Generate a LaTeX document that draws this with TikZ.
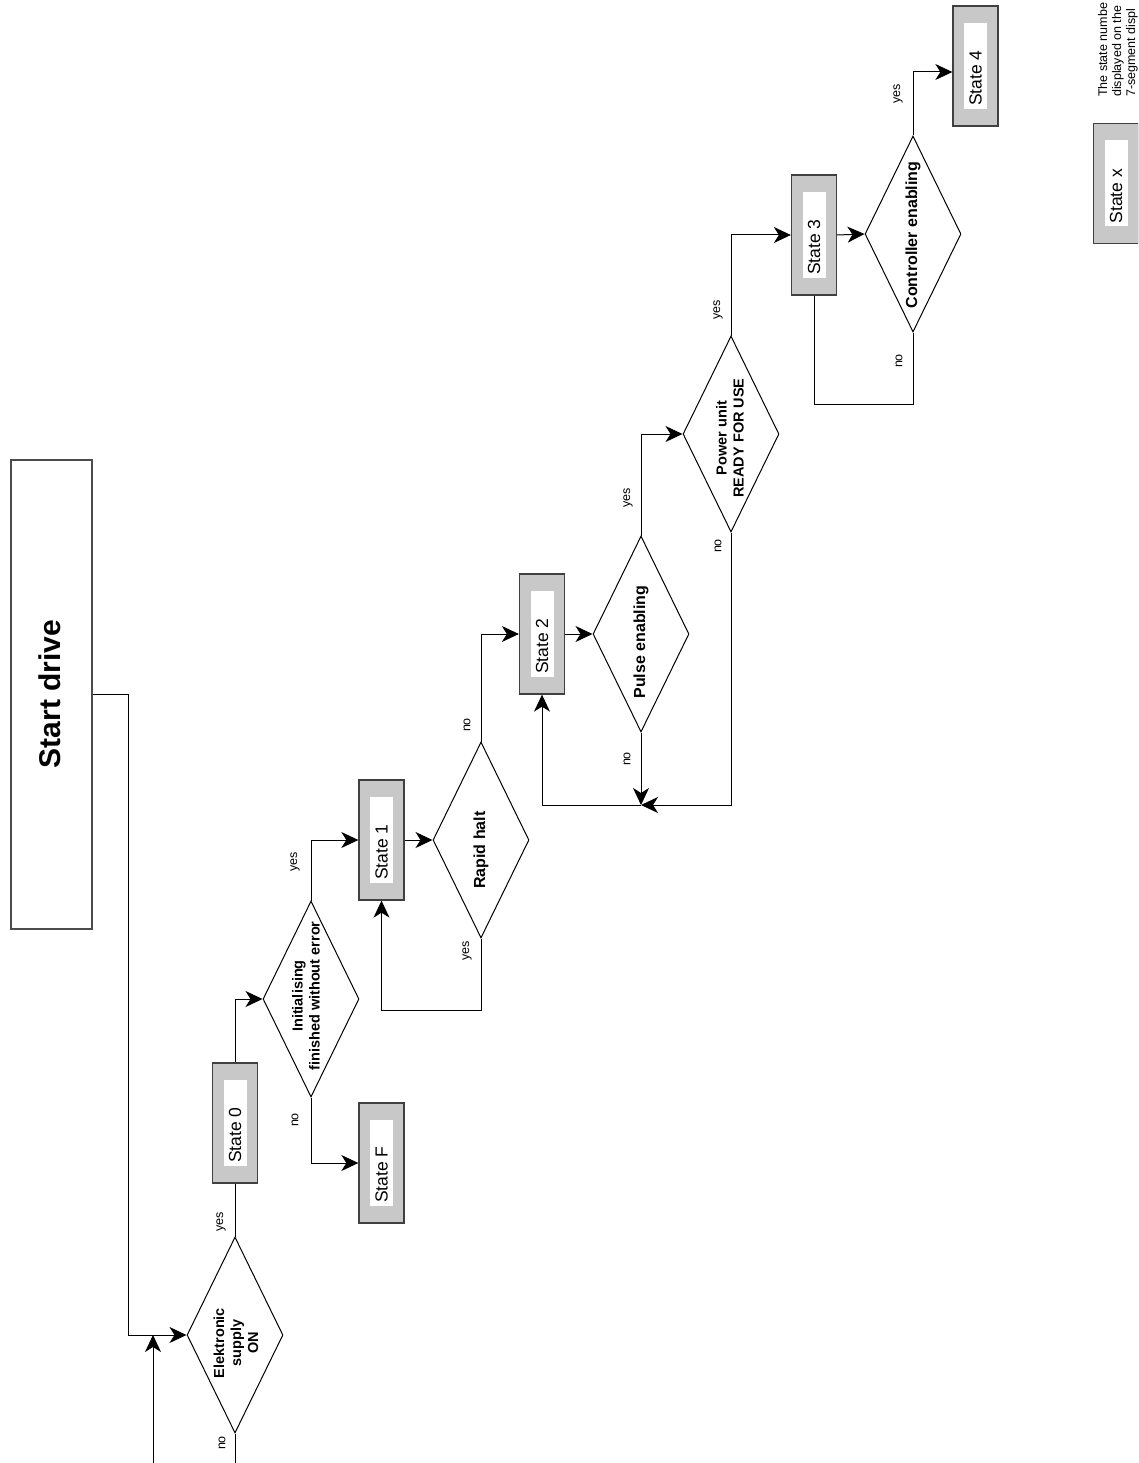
\documentclass[tikz,border=0pt]{standalone}
\usepackage{fontspec}
\setmainfont{Liberation Sans}
\usetikzlibrary{shapes.geometric,arrows.meta}
\definecolor{stategray}{HTML}{C8C8C8}
\tikzset{
 arr/.style={-{Stealth[length=17pt,width=16pt,inset=5pt]}},
 conn/.style={draw=black, line width=1pt},
 dec/.style={shape=diamond, draw=black, line width=1pt, inner sep=0pt, minimum width=96pt, minimum height=196pt},
 dtext/.style={rotate=90, align=center, font=\fontsize{14.5}{17}\selectfont\bfseries, inner sep=0pt},
 dtextb/.style={rotate=90, align=center, font=\fontsize{16}{19}\selectfont\bfseries, inner sep=0pt},
 stouter/.style={draw=black!75, line width=1.3pt, fill=stategray, minimum width=45pt, minimum height=120pt, inner sep=0pt},
 stinner/.style={fill=white, minimum width=23pt, minimum height=86pt, inner sep=0pt},
 sttext/.style={rotate=90, anchor=west, font=\fontsize{17.5}{20}\selectfont, inner sep=0pt},
 yn/.style={rotate=90, font=\fontsize{12.5}{15}\selectfont, inner sep=0pt},
}
\newcommand\stbox[4]{%
  \node[stouter] (#1) at (#2,#3) {};
  \node[stinner] (#1in) at (#1.center) {};
  \node[sttext] (#1txt) at ([yshift=-40pt]#1.center) {#4};
}
\begin{document}
\begin{tikzpicture}[x=1pt,y=-1pt]
\useasboundingbox (0,0) rectangle (1138,1463);
\fill[white] (0,0) rectangle (1138,1463);
\clip (0,0) rectangle (1138,1463);

% start box
\node[draw=black!70, line width=1.2pt, minimum width=81pt, minimum height=469pt, inner sep=0pt] (start) at (51.5,694.5) {};
\node[rotate=90, font=\fontsize{30}{36}\selectfont\bfseries, inner sep=0pt] (starttxt) at (50,694) {Start drive};

% decisions
\node[dec] (d1) at (235,1335) {};
\node[dec] (d2) at (311,999) {};
\node[dec] (d3) at (481,840) {};
\node[dec] (d4) at (641,634) {};
\node[dec] (d5) at (731,434) {};
\node[dec] (d6) at (913,234) {};
\node[dtext] (d1t) at (236,1343) {Elektronic\\supply\\ON};
\node[dtext] (d2t) at (306,996) {Initialising\\finished without error};
\node[dtextb] (d3t) at (481,850) {Rapid halt};
\node[dtextb] (d4t) at (641,642) {Pulse enabling};
\node[dtext] (d5t) at (730,438) {Power unit\\READY FOR USE};
\node[dtextb] (d6t) at (913,235) {Controller enabling};

% states
\stbox{s0}{235}{1123}{State 0}
\stbox{sF}{381.5}{1163}{State F}
\stbox{s1}{381.5}{840}{State 1}
\stbox{s2}{542}{634}{State 2}
\stbox{s3}{814}{235}{State 3}
\stbox{s4}{975.5}{66}{State 4}
\stbox{sx}{1116}{183.5}{State x}

\node[rotate=90, anchor=west, align=left, font=\fontsize{12.5}{14}\selectfont, inner sep=0pt] (note) at (1118,97) {The state numbe\\displayed on the\\7-segment displ};

% connectors
\draw[conn,arr] (start.east) -- ++(36,0) |- (d1.west);
\coordinate (inb) at (153,1463);
\coordinate (inj) at (153,1335);
\draw[conn,arr] (inb) -- (inj);
\coordinate (d1no) at (235,1463);
\draw[conn] (d1.south) -- (d1no);
\draw[conn] (d1.north) -- (s0.south);
\draw[conn,arr] (s0.north) |- (d2.west);
\draw[conn,arr] (d2.south) |- (sF.west);
\draw[conn,arr] (d2.north) |- (s1.west);
\draw[conn,arr] (s1.east) -- (d3.west);
\draw[conn,arr] (d3.south) -- ++(0,72) -| (s1.south);
\draw[conn,arr] (d3.north) |- (s2.west);
\draw[conn,arr] (s2.east) -- (d4.west);
\coordinate (J) at (641,805);
\draw[conn,arr] (d4.south) -- (J);
\draw[conn,arr] (d5.south) |- (J);
\draw[conn,arr] (J) -| (s2.south);
\draw[conn,arr] (d4.north) |- (d5.west);
\draw[conn,arr] (d5.north) |- (s3.west);
\draw[conn,arr] (s3.east) -- (d6.west);
\draw[conn] (d6.south) -- ++(0,72) -| (s3.south);
\draw[conn,arr] (d6.north) |- ([yshift=-6pt]s4.west);

% yes/no labels
\node[yn] (l1y) at (221,1222) {yes};
\node[yn] (l1n) at (222,1443) {no};
\node[yn] (l2n) at (295,1120) {no};
\node[yn] (l2y) at (295,862) {yes};
\node[yn] (l3y) at (467,951) {yes};
\node[yn] (l3n) at (467,725) {no};
\node[yn] (l4n) at (627,759) {no};
\node[yn] (l4y) at (628,498) {yes};
\node[yn] (l5n) at (718,546) {no};
\node[yn] (l5y) at (718,310) {yes};
\node[yn] (l6n) at (899,361) {no};
\node[yn] (l6y) at (898,94) {yes};
\end{tikzpicture}
\end{document}
